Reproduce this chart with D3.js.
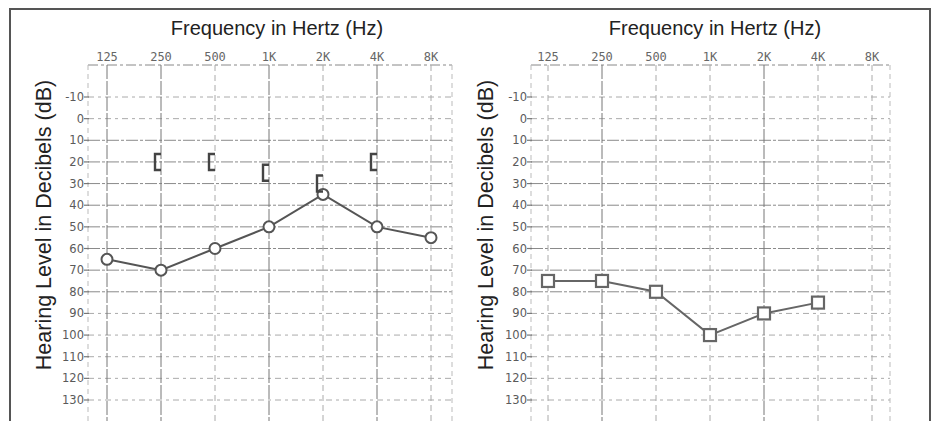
<!DOCTYPE html>
<html>
<head>
<meta charset="utf-8">
<script src="https://cdn.jsdelivr.net/npm/d3@7"></script>
<style>
  body { margin: 0; background: #fff; }
  svg { display: block; }
  .title { font-family: "Liberation Sans", Arial, sans-serif; font-size: 20px; fill: #222; }
  .ytitle { font-family: "Liberation Sans", Arial, sans-serif; font-size: 21.5px; fill: #222; }
  .freq { font-family: "DejaVu Sans Mono", monospace; font-size: 12px; fill: #666; }
  .ytick { font-family: "DejaVu Sans", sans-serif; font-size: 11.5px; fill: #5a5a5a; }
</style>
</head>
<body>
<svg width="932" height="421"></svg>
<script>
"use strict";

// frequencies on the top axis, hearing level ticks on the left
var freqLabels = ["125", "250", "500", "1K", "2K", "4K", "8K"];
var dbTicks = [-10, 0, 10, 20, 30, 40, 50, 60, 70, 80, 90, 100, 110, 120, 130];

// left audiogram: air conduction (circles) and bone conduction (brackets)
var leftAirFreq = ["125", "250", "500", "1K", "2K", "4K", "8K"];
var leftAirDb = [65, 70, 60, 50, 35, 50, 55];
var leftBoneFreq = ["250", "500", "1K", "2K", "4K"];
var leftBoneDb = [20, 20, 25, 30, 20];

// right audiogram: squares
var rightFreq = ["125", "250", "500", "1K", "2K", "4K"];
var rightDb = [75, 75, 80, 100, 90, 85];

var svg = d3.select("svg");

// outer frame (top + left + right, bottom is cut off)
svg.append("path")
  .attr("d", "M10,421 V9 H930 V421")
  .attr("fill", "none").attr("stroke", "#555").attr("stroke-width", 2);

function panel(opt) {
  var g = svg.append("g");
  var x = d3.scalePoint().domain(freqLabels).range([opt.x0, opt.x1]);
  var y = d3.scaleLinear().domain([-10, 130]).range([97, 400]);

  // titles
  g.append("text").attr("class", "title")
    .attr("x", opt.titleX).attr("y", 35)
    .attr("text-anchor", "middle")
    .text("Frequency in Hertz (Hz)");

  g.append("text").attr("class", "ytitle")
    .attr("transform", "translate(" + opt.yTitleX + ",225) rotate(-90)")
    .attr("text-anchor", "middle")
    .text("Hearing Level in Decibels (dB)");

  // top frequency labels
  g.selectAll(".freq").data(freqLabels).enter().append("text")
    .attr("class", "freq")
    .attr("x", function (d) { return x(d); })
    .attr("y", 61)
    .attr("text-anchor", "middle")
    .text(function (d) { return d; });

  // top dashed rule
  g.append("line")
    .attr("x1", opt.gx0).attr("x2", opt.gx1).attr("y1", 65).attr("y2", 65)
    .attr("stroke", "#888").attr("stroke-dasharray", "10,3,3,3");

  // horizontal grid
  g.selectAll(".hgrid").data(dbTicks).enter().append("line")
    .attr("class", "hgrid")
    .attr("x1", opt.gx0).attr("x2", opt.gx1)
    .attr("y1", function (d) { return y(d); })
    .attr("y2", function (d) { return y(d); })
    .attr("stroke", function (d) { return (d >= 10 && d <= 80) ? "#8a8a8a" : "#aaa"; })
    .attr("stroke-width", 1)
    .attr("stroke-dasharray", function (d) { return (d >= 10 && d <= 80) ? "12,2,3,2" : "6,4,3,4"; });

  // vertical grid
  g.selectAll(".vgrid").data(freqLabels).enter().append("line")
    .attr("class", "vgrid")
    .attr("x1", function (d) { return x(d); })
    .attr("x2", function (d) { return x(d); })
    .attr("y1", 65).attr("y2", 421)
    .attr("stroke", function (d) { return opt.solid.indexOf(d) >= 0 ? "#777" : "#aaa"; })
    .attr("stroke-dasharray", function (d) { return opt.solid.indexOf(d) >= 0 ? "14,2" : "6,4"; });

  // grid edges
  [opt.gx0, opt.gx1].forEach(function (ex) {
    g.append("line")
      .attr("x1", ex).attr("x2", ex).attr("y1", 65).attr("y2", 421)
      .attr("stroke", "#bbb").attr("stroke-dasharray", "5,4");
  });

  // y tick labels + tick marks
  g.selectAll(".ytick").data(dbTicks).enter().append("text")
    .attr("class", "ytick")
    .attr("x", opt.gx0 - 4)
    .attr("y", function (d) { return y(d) + 4; })
    .attr("text-anchor", "end")
    .text(function (d) { return d; });
  g.selectAll(".ytickmark").data(dbTicks).enter().append("line")
    .attr("x1", opt.gx0 - 4).attr("x2", opt.gx0 + 1)
    .attr("y1", function (d) { return y(d); })
    .attr("y2", function (d) { return y(d); })
    .attr("stroke", "#777").attr("stroke-width", 1.2);

  return { g: g, x: x, y: y };
}

var L = panel({ x0: 107, x1: 431, gx0: 88, gx1: 452, titleX: 277, yTitleX: 51,
  solid: ["125", "250", "1K", "4K"] });
var R = panel({ x0: 548, x1: 872, gx0: 531, gx1: 890, titleX: 715, yTitleX: 493,
  solid: ["250", "2K"] });

var line = function (p) {
  return d3.line().x(function (d) { return p.x(d[0]); }).y(function (d) { return p.y(d[1]); });
};

// left: air conduction line + circles
var leftPts = d3.zip(leftAirFreq, leftAirDb);
L.g.append("path").datum(leftPts)
  .attr("d", line(L))
  .attr("fill", "none").attr("stroke", "#555").attr("stroke-width", 2);
L.g.selectAll(".air").data(leftPts).enter().append("circle")
  .attr("cx", function (d) { return L.x(d[0]); })
  .attr("cy", function (d) { return L.y(d[1]); })
  .attr("r", 5.5)
  .attr("fill", "#fff").attr("stroke", "#555").attr("stroke-width", 2);

// left: bone conduction brackets
L.g.selectAll(".bone").data(d3.zip(leftBoneFreq, leftBoneDb)).enter().append("path")
  .attr("d", function (d) {
    var bx = L.x(d[0]) - 6, by = L.y(d[1]);
    return "M" + (bx + 6) + "," + (by - 8) + " H" + bx + " V" + (by + 8) + " H" + (bx + 6);
  })
  .attr("fill", "none").attr("stroke", "#444").attr("stroke-width", 2.4);

// right: line + squares
var rightPts = d3.zip(rightFreq, rightDb);
R.g.append("path").datum(rightPts)
  .attr("d", line(R))
  .attr("fill", "none").attr("stroke", "#666").attr("stroke-width", 2);
R.g.selectAll(".sq").data(rightPts).enter().append("rect")
  .attr("x", function (d) { return R.x(d[0]) - 6; })
  .attr("y", function (d) { return R.y(d[1]) - 6; })
  .attr("width", 12).attr("height", 12)
  .attr("fill", "#fff").attr("stroke", "#666").attr("stroke-width", 2.2);
</script>
</body>
</html>
